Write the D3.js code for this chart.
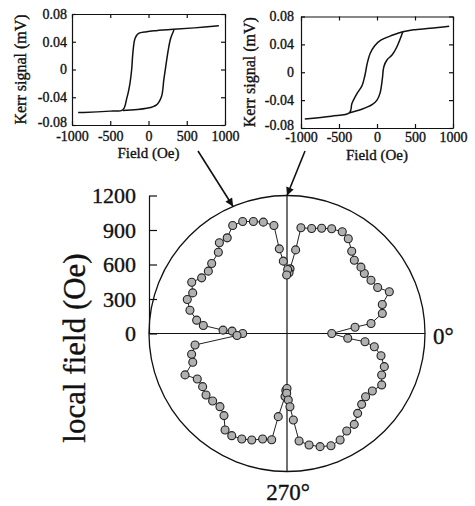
<!DOCTYPE html>
<html>
<head>
    <title>Local field polar plot</title>
    <script src="https://d3js.org/d3.v7.min.js"></script>
    <style>
        body { margin: 0; background: #fff; }
        text { font-family: "Liberation Serif", "Times New Roman", serif; fill: #111; stroke: #111; stroke-width: 0.35px; }
    </style>
</head>
<body>
    <script>
        // Inset loops: field (Oe) / Kerr signal (mV)
        const insetFieldTicks = [-1000, -500, 0, 500, 1000];
        const kerrTicks = [-0.08, -0.04, 0, 0.04, 0.08];

        // left loop (square loop)
        const loopA_downH = [920, 600, 330, 100, -25, -130, -175, -205, -220, -250, -285, -335, -500, -850, -920];
        const loopA_downM = [0.063, 0.060, 0.058, 0.056, 0.0545, 0.052, 0.045, 0.023, 0.0, -0.025, -0.042, -0.058, -0.060, -0.062, -0.062];
        const loopA_upH = [-335, -25, 105, 170, 200, 225, 258, 290, 333];
        const loopA_upM = [-0.059, -0.056, -0.051, -0.039, -0.015, 0.004, 0.028, 0.045, 0.057];

        // right loop (stepped loop)
        const loopB_downH = [950, 700, 480, 340, 200, 50, -30, -90, -130, -160, -200, -260, -330, -360, -600, -950];
        const loopB_downM = [0.066, 0.063, 0.061, 0.058, 0.053, 0.046, 0.038, 0.027, 0.012, -0.005, -0.020, -0.030, -0.045, -0.058, -0.063, -0.067];
        const loopB_upH = [-360, -200, -60, 0, 40, 70, 90, 133, 200, 264, 340];
        const loopB_upM = [-0.058, -0.053, -0.046, -0.040, -0.030, -0.010, 0.008, 0.018, 0.025, 0.037, 0.058];

        // Polar plot: angle (deg) and local field (Oe)
        const fieldTicks = [0, 300, 600, 900, 1200];
        const angles = [0, 5.3, 6.8, 11.9, 16.9, 22.2, 26.9, 32.4, 37.8, 41.9, 47.4, 51.8, 57.1, 61.5, 66.9, 71.8, 76.8, 82.5, 84.1, 87.3,
            88.1, 89.4, 90.3, 92.9, 95.2, 96.9, 102, 106.7, 111.6, 116.7, 122, 126.7, 130.2, 137.1, 141.6, 146.9, 151.7, 156.7, 161.2, 166.5,
            171.6, 174.5, 177, 177.5, 180, 182.3, 187.1, 192.3, 197, 202.1, 206.9, 212.2, 217.2, 222.2, 227.5, 232.5, 237.3, 241.6, 246.8, 251.7,
            257, 261.8, 264, 268.2, 268.8, 270, 269.7, 271.1, 272.3, 274.2, 276.4, 281.2, 286.3, 291.4, 296.5, 301.5, 306.5, 311.5, 316.5, 321.2,
            326, 331.5, 336.3, 341.2, 346.7, 351.4, 354, 355.5];
        const localField = [389, 594, 736, 847, 866, 961, 884, 865, 851, 864, 865, 910, 981, 1007, 990, 964, 938, 927, 731, 563,
            529, 557, 509, 630, 739, 946, 990, 1017, 1047, 1051, 981, 984, 925, 894, 873, 886, 941, 893, 916, 868,
            794, 731, 557, 478, 385, 435, 806, 849, 857, 957, 875, 867, 884, 873, 863, 900, 997, 1010, 998, 976,
            942, 933, 727, 548, 496, 478, 520, 578, 637, 754, 941, 988, 1025, 1048, 1035, 994, 983, 927, 895, 877,
            895, 937, 899, 894, 840, 768, 682, 530];
        const arrowAngles = [113, 90];
        const arrowStarts = [[198, 151], [305, 151]];

        const W = 475, H = 506;
        const svg = d3.select("body").append("svg")
            .attr("width", W)
            .attr("height", H);
        svg.append("rect").attr("width", W).attr("height", H).attr("fill", "#fff");

        const serif = "Liberation Serif, Times New Roman, serif";

        function styleAxis(g, size) {
            g.attr("font-family", serif).attr("font-size", size);
            g.selectAll("path, line").attr("stroke", "#111").attr("stroke-width", 1.2);
            g.selectAll("text").attr("fill", "#111");
        }

        function drawLoop(box, branches) {
            const x = d3.scaleLinear().domain([-1000, 1000]).range([box.left, box.right]);
            const y = d3.scaleLinear().domain([-0.08, 0.08]).range([box.bottom, box.top]);
            const g = svg.append("g");

            g.append("g").attr("transform", `translate(0,${box.bottom})`)
                .call(d3.axisBottom(x).tickValues(insetFieldTicks).tickSizeInner(-4).tickSizeOuter(0)
                    .tickPadding(box.xpad).tickFormat(d => String(d)))
                .call(a => styleAxis(a, 14));
            g.append("g").attr("transform", `translate(0,${box.top})`)
                .call(d3.axisTop(x).tickValues(insetFieldTicks).tickSizeInner(-4).tickSizeOuter(0).tickFormat(""))
                .call(a => styleAxis(a, 14));
            const yAx = g.append("g").attr("transform", `translate(${box.left},0)`)
                .call(d3.axisLeft(y).tickValues(kerrTicks).tickSizeInner(-4).tickSizeOuter(0)
                    .tickPadding(box.pad).tickFormat(d => d === 0 ? "0" : d.toFixed(2)))
                .call(a => styleAxis(a, 14));
            // lowest label sits a little above its tick, as in the original
            yAx.selectAll(".tick text").filter(d => d === -0.08).attr("dy", "0.1em");
            g.append("g").attr("transform", `translate(${box.right},0)`)
                .call(d3.axisRight(y).tickValues(kerrTicks).tickSizeInner(-4).tickSizeOuter(0).tickFormat(""))
                .call(a => styleAxis(a, 14));

            const line = d3.line()
                .x(d => x(d[0]))
                .y(d => y(d[1]))
                .curve(d3.curveCatmullRom.alpha(0.5));

            branches.forEach(b => {
                g.append("path")
                    .datum(b[0].map((h, i) => [h, b[1][i]]))
                    .attr("d", line)
                    .attr("fill", "none")
                    .attr("stroke", "#111")
                    .attr("stroke-width", 1.5);
            });

            g.append("text")
                .attr("transform", `translate(${box.ylabX},${(box.top + box.bottom) / 2}) rotate(-90)`)
                .attr("text-anchor", "middle")
                .attr("font-size", 16)
                .text("Kerr signal (mV)");
            g.append("text")
                .attr("x", (box.left + box.right) / 2)
                .attr("y", box.xlabY)
                .attr("text-anchor", "middle")
                .attr("font-size", 15)
                .text("Field (Oe)");
        }

        drawLoop({ left: 72, right: 225, top: 14, bottom: 125, pad: 5, xpad: 6, ylabX: 26, xlabY: 158 },
            [[loopA_downH, loopA_downM], [loopA_upH, loopA_upM]]);
        drawLoop({ left: 301, right: 453, top: 16.5, bottom: 128, pad: 7, xpad: 4, ylabX: 255, xlabY: 160 },
            [[loopB_downH, loopB_downM], [loopB_upH, loopB_upM]]);

        // Polar plot
        const cx = 287, cy = 333.5, R = 138;
        const r = d3.scaleLinear().domain([0, 1200]).range([0, R]);
        const yAxisScale = d3.scaleLinear().domain([0, 1200]).range([cy, cy - R]);
        const toRad = a => Math.PI / 2 - a * Math.PI / 180;

        const polar = svg.append("g").attr("transform", `translate(${cx},${cy})`);
        polar.append("circle")
            .attr("r", r(1200))
            .attr("fill", "none")
            .attr("stroke", "#111")
            .attr("stroke-width", 1.3);
        polar.append("line")
            .attr("x1", -r(1200)).attr("x2", r(1200))
            .attr("stroke", "#111").attr("stroke-width", 1.2);
        polar.append("line")
            .attr("y1", -r(1200)).attr("y2", r(1200))
            .attr("stroke", "#111").attr("stroke-width", 1.2);

        svg.append("g")
            .attr("transform", `translate(${cx - R},0)`)
            .call(d3.axisLeft(yAxisScale).tickValues(fieldTicks).tickSizeInner(-8).tickSizeOuter(0)
                .tickPadding(13).tickFormat(d3.format("d")))
            .call(a => styleAxis(a, 22));

        const pts = angles.map((a, i) => ({ a: a, f: localField[i] }));
        polar.append("path")
            .datum(pts)
            .attr("d", d3.lineRadial().angle(d => toRad(d.a)).radius(d => r(d.f)).curve(d3.curveLinearClosed))
            .attr("fill", "none")
            .attr("stroke", "#222")
            .attr("stroke-width", 1);

        polar.selectAll("circle.pt")
            .data(pts)
            .join("circle")
            .attr("class", "pt")
            .attr("cx", d => d3.pointRadial(toRad(d.a), r(d.f))[0])
            .attr("cy", d => d3.pointRadial(toRad(d.a), r(d.f))[1])
            .attr("r", 4)
            .attr("fill", "#b0b0b0")
            .attr("stroke", "#222")
            .attr("stroke-width", 1.1);

        // arrows from the insets to the circle
        svg.append("defs").append("marker")
            .attr("id", "head")
            .attr("viewBox", "0 0 10 10")
            .attr("refX", 10).attr("refY", 5)
            .attr("markerWidth", 14).attr("markerHeight", 8)
            .attr("markerUnits", "userSpaceOnUse")
            .attr("orient", "auto")
            .append("path")
            .attr("d", "M0,0L10,5L0,10z")
            .attr("fill", "#111");

        arrowAngles.forEach((a, i) => {
            const tip = d3.pointRadial(toRad(a), r(1200));
            svg.append("line")
                .attr("x1", arrowStarts[i][0]).attr("y1", arrowStarts[i][1])
                .attr("x2", cx + tip[0]).attr("y2", cy + tip[1])
                .attr("stroke", "#111")
                .attr("stroke-width", 1.6)
                .attr("marker-end", "url(#head)");
        });

        svg.append("text")
            .attr("transform", `translate(85,348) rotate(-90)`)
            .attr("text-anchor", "middle")
            .attr("font-size", 31)
            .text("local field (Oe)");
        svg.append("text")
            .attr("x", cx + R + 8)
            .attr("y", cy + 10)
            .attr("font-size", 23)
            .text("0°");
        svg.append("text")
            .attr("x", cx + 1)
            .attr("y", 500)
            .attr("text-anchor", "middle")
            .attr("font-size", 23)
            .text("270°");
    </script>
</body>
</html>
